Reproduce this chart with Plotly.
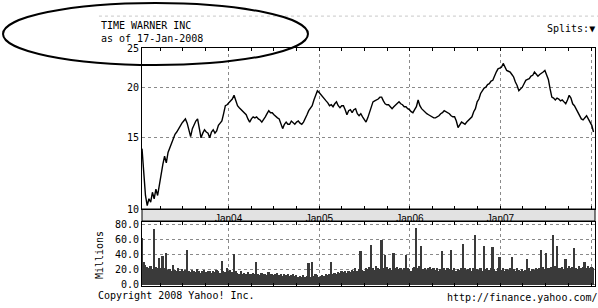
import pandas as pd
import plotly.graph_objects as go

# ---------------- data ----------------
start_date = "2003-01-17"
end_date = "2008-01-17"

# weekly closing price (USD), one value per week from 17-Jan-2003
price = [
    14.1, 12.3, 10.8, 10.2, 10.6, 10.4, 11.0, 10.6, 11.2, 10.8, 11.5, 12.2, 12.9,
    13.5, 13.0, 13.8, 14.2, 14.6, 15.0, 15.3, 15.5, 15.8, 16.1, 16.3, 16.5, 16.7,
    16.3, 15.7, 15.1, 15.8, 16.2, 16.5, 16.7, 15.9, 15.0, 15.4, 15.7, 15.5, 15.4,
    15.0, 15.5, 15.7, 15.4, 15.6, 16.1, 16.3, 16.5, 17.2, 18.0, 18.1, 18.3, 18.5,
    18.7, 19.1, 18.4, 18.0, 17.8, 17.6, 17.5, 17.3, 17.1, 16.7, 16.4, 16.7, 16.9,
    16.8, 16.9, 16.7, 16.6, 16.4, 16.6, 16.9, 17.2, 17.5, 17.3, 17.3, 17.1, 16.9,
    16.8, 16.7, 16.2, 15.8, 16.2, 16.4, 16.2, 16.2, 16.5, 16.3, 16.2, 16.4, 16.5,
    16.3, 16.2, 16.4, 16.7, 17.1, 17.5, 17.7, 18.0, 18.6, 19.1, 19.6, 19.4, 19.2,
    18.9, 18.7, 18.5, 18.3, 18.0, 18.1, 17.9, 18.2, 18.4, 18.0, 17.8, 18.0, 18.0,
    17.6, 17.1, 17.5, 17.6, 17.3, 17.6, 17.7, 17.2, 17.0, 17.2, 16.9, 16.6, 16.4,
    16.8, 17.3, 17.9, 18.4, 18.5, 18.6, 18.7, 18.9, 18.9, 18.5, 18.2, 18.1, 18.1,
    17.9, 17.7, 17.9, 18.1, 18.3, 18.4, 18.2, 18.1, 17.9, 17.9, 17.7, 17.6, 17.4,
    17.3, 17.6, 17.9, 18.6, 18.0, 17.7, 17.5, 17.3, 17.2, 17.1, 17.0, 16.9, 16.8,
    16.8, 16.9, 17.0, 17.2, 17.3, 17.5, 17.4, 17.3, 17.2, 17.0, 16.9, 16.9, 16.5,
    15.9, 16.2, 16.4, 16.3, 16.2, 16.4, 16.6, 16.8, 16.9, 17.4, 17.7, 18.4, 18.7,
    19.3, 19.6, 19.9, 20.0, 20.3, 20.4, 20.7, 20.8, 21.4, 21.8, 22.2, 22.3, 22.4,
    22.9, 22.5, 22.0, 21.9, 21.8, 21.5, 21.2, 20.6, 20.2, 19.6, 19.8, 20.0, 20.4,
    20.8, 20.9, 21.0, 21.3, 21.4, 21.8, 21.6, 21.3, 21.5, 21.6, 21.8, 22.0, 21.4,
    20.9, 19.8, 18.9, 18.8, 18.6, 18.8, 18.7, 18.5, 18.6, 18.4, 18.2, 18.6, 19.1,
    18.8, 18.2, 18.0, 17.7, 17.4, 17.0, 16.7, 16.6, 16.8, 17.0, 16.7, 16.4, 16.1,
    15.5,
]

# weekly volume (millions of shares)
volume = [
    62, 30, 26, 24, 22, 25, 21, 75, 24, 22, 36, 23, 39,
    22, 42, 20, 21, 19, 27, 20, 18, 22, 19, 21, 18, 20,
    46, 19, 17, 20, 18, 17, 21, 19, 16, 18, 20, 17, 19,
    18, 16, 19, 17, 20, 18, 16, 32, 19, 17, 22, 18, 20,
    17, 41, 19, 16, 15, 18, 14, 16, 15, 17, 14, 15, 16,
    14, 30, 15, 13, 16, 14, 15, 13, 17, 14, 15, 13, 14,
    16, 13, 14, 12, 15, 13, 14, 12, 13, 15, 12, 13, 11,
    12, 11, 13, 10, 12, 29, 11, 31, 12, 14, 13, 11, 12,
    13, 12, 14, 13, 15, 31, 14, 16, 15, 17, 16, 18, 17,
    19, 16, 18, 17, 20, 18, 22, 19, 21, 45, 20, 18, 22,
    21, 24, 53, 22, 20, 25, 23, 21, 60, 22, 40, 24, 21,
    23, 20, 42, 22, 24, 21, 23, 20, 22, 40, 23, 21, 19,
    22, 24, 76, 23, 25, 52, 21, 23, 20, 22, 24, 21, 23,
    20, 22, 19, 21, 45, 22, 20, 23, 21, 46, 20, 22, 19,
    21, 20, 23, 55, 22, 20, 21, 23, 19, 22, 66, 21, 20,
    22, 19, 52, 21, 23, 20, 22, 50, 21, 19, 22, 37, 20,
    22, 19, 21, 20, 23, 37, 21, 19, 22, 20, 18, 21, 19,
    20, 35, 22, 19, 21, 20, 23, 21, 22, 46, 24, 21, 42,
    23, 22, 24, 66, 25, 52, 23, 22, 24, 21, 35, 23, 25,
    22, 24, 49, 23, 21, 25, 22, 24, 30, 23, 25, 22, 24,
    23,
]

tick_dates = ["2004-01-01", "2005-01-01", "2006-01-01", "2007-01-01", "2008-01-01"]
tick_labels = ["Jan04", "Jan05", "Jan06", "Jan07", ""]
price_ticks = [10, 15, 20, 25]
volume_ticks = [0, 20, 40, 60, 80]

title_line1 = "TIME WARNER INC"
title_line2 = "as of 17-Jan-2008"

# ---------------- figure ----------------
dates = pd.date_range(start_date, periods=len(price), freq="7D")
mono = "DejaVu Sans Mono"

fig = go.Figure()
fig.add_trace(go.Bar(x=dates, y=volume, xaxis="x2", yaxis="y2",
                     marker=dict(color="#3a3a3a", line=dict(width=0))))
fig.add_trace(go.Scatter(x=dates, y=price, mode="lines", xaxis="x", yaxis="y",
                         line=dict(color="black", width=1.4)))

grid = dict(showgrid=True, gridcolor="#8a8a8a", griddash="dot", gridwidth=1)
border = dict(showline=True, linecolor="black", linewidth=1, mirror="ticks")
minor = dict(dtick="M3", tick0="2003-01-01", ticks="inside", ticklen=3,
             tickcolor="black", showgrid=False)

fig.update_layout(
    width=598, height=308,
    margin=dict(l=142, r=3, t=48, b=22),
    paper_bgcolor="white", plot_bgcolor="white",
    showlegend=False, bargap=0,
    font=dict(family=mono, size=10, color="black"),
    xaxis=dict(domain=[0, 1], anchor="y", type="date",
               range=[start_date, end_date],
               tickmode="array", tickvals=tick_dates, ticktext=tick_labels,
               ticks="", tickfont=dict(family="Liberation Sans", size=10),
               minor=minor, **grid, **border),
    yaxis=dict(domain=[0.3235, 1], anchor="x", type="log",
               range=[1, 1.39794], tickmode="array", tickvals=price_ticks,
               ticktext=[str(v) for v in price_ticks], ticks="",
               zeroline=False, **grid, **border),
    xaxis2=dict(domain=[0, 1], anchor="y2", type="date", matches="x",
                range=[start_date, end_date],
                tickmode="array", tickvals=tick_dates, showticklabels=False,
                ticks="", minor=minor, **grid, **border),
    yaxis2=dict(domain=[0, 0.2689], anchor="x2", range=[-1.5, 84],
                tickmode="array", tickvals=volume_ticks, tickformat=".1f",
                ticks="", zeroline=False, **grid, **border),
)

# date band between the two panels
fig.add_shape(type="rect", xref="paper", yref="paper",
              x0=0, x1=1, y0=0.273, y1=0.3235,
              fillcolor="#e2e2e2", line=dict(color="black", width=1),
              layer="below")
# faint dotted scan line at the top
fig.add_shape(type="line", xref="paper", yref="paper",
              x0=-0.095, x1=1.01, y0=1.134, y1=1.134,
              line=dict(color="#c8c8c8", width=1, dash="dot"))
# hand-drawn ellipse around the title
fig.add_shape(type="circle", xref="paper", yref="paper",
              x0=-0.3068, x1=0.3664, y0=0.9286, y1=1.189,
              line=dict(color="black", width=2))

ann = dict(xref="paper", yref="paper", showarrow=False,
           font=dict(family=mono, size=10, color="black"))
fig.add_annotation(text=title_line1, x=-0.0949, y=1.0966,
                   xanchor="left", yanchor="middle", **ann)
fig.add_annotation(text=title_line2, x=-0.0949, y=1.042,
                   xanchor="left", yanchor="middle", **ann)
fig.add_annotation(text="Splits:▼", x=1.0044, y=1.0836,
                   xanchor="right", yanchor="middle", **ann)
fig.add_annotation(text="Millions", x=-0.0949, y=0.13, textangle=-90,
                   xanchor="center", yanchor="middle", **ann)
fig.add_annotation(text="Copyright 2008 Yahoo! Inc.", x=-0.1011, y=-0.042,
                   xanchor="left", yanchor="middle", **ann)
fig.add_annotation(text="http://finance.yahoo.com/", x=1.011, y=-0.05,
                   xanchor="right", yanchor="middle", **ann)

fig.write_html("out.html",
               config={"displayModeBar": False},
               post_script="document.body.style.margin='0';")
